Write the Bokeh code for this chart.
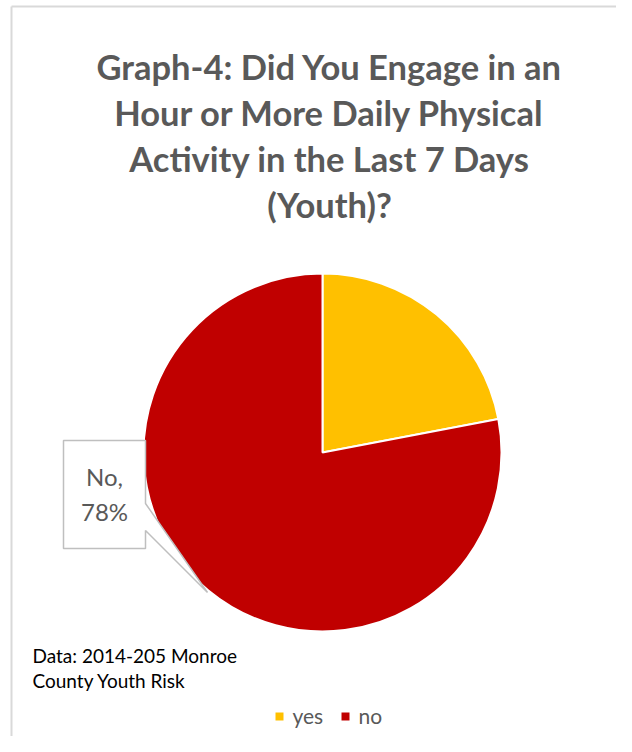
from math import pi
from bokeh.plotting import figure
from bokeh.models import ColumnDataSource, Range1d
from bokeh.core.properties import value
from bokeh.embed import file_html
from bokeh.resources import INLINE

# ---- data ----
categories = ["yes", "no"]
percents = [22, 78]
colors = ["#FFC000", "#C00000"]
title_lines = ["Graph-4: Did You Engage in an", "Hour or More Daily Physical",
               "Activity in the Last 7 Days", "(Youth)?"]
note_lines = ["Data: 2014-205 Monroe", "County Youth Risk"]
callout_label = ["No,", "78%"]

W, H = 616, 736
p = figure(width=W, height=H, output_backend="svg", toolbar_location=None,
           x_range=Range1d(0, W), y_range=Range1d(0, H),
           x_axis_type=None, y_axis_type=None, min_border=0,
           outline_line_color=None, background_fill_color="white")
p.grid.visible = False

# border (left and top)
p.line(x=[11, 11], y=[0, 730], line_color="#D9D9D9", line_width=2)
p.line(x=[11, W], y=[730, 730], line_color="#D9D9D9", line_width=2)

# pie
total = sum(percents)
starts, ends = [], []
acc = 0.0
for v in percents:
    starts.append(pi / 2 - acc / total * 2 * pi)
    acc += v
    ends.append(pi / 2 - acc / total * 2 * pi)
src = ColumnDataSource(dict(cat=categories, val=percents, color=colors,
                            start=starts, end=ends))
cx, cy, r = 322, 284, 179
p.wedge(x=cx, y=cy, radius=r, start_angle="start", end_angle="end",
        direction="clock", fill_color="color", line_color="white",
        line_width=2, source=src)

# title
for i, t in enumerate(title_lines):
    p.text(x=[329], y=[670 - 46 * i], text=[t], text_align="center",
           text_baseline="alphabetic", text_font=value("Lato"),
           text_font_style="bold", text_font_size="34.5px", text_color="#595959")

# callout for "no"
p.patch(x=[63, 145, 145, 207, 145, 145, 63],
        y=[296, 296, 233, 144, 206, 188, 188],
        fill_color="white", line_color="#BFBFBF", line_width=1.5)
p.text(x=[104, 104], y=[260, 225], text=callout_label, text_align="center",
       text_baseline="middle", text_font=value("Lato"),
       text_font_size="24px", text_color="#595959")

# data note
for i, t in enumerate(note_lines):
    p.text(x=[32], y=[81 - 25 * i], text=[t], text_align="left",
           text_baseline="alphabetic", text_font=value("Lato"),
           text_font_size="19px", text_color="#000000")

# legend (manual)
leg_sq_x = [279, 345]
leg_txt_x = [292, 358]
p.scatter(x=leg_sq_x, y=[20, 20], marker="square", size=8,
          fill_color=colors, line_color=None)
p.text(x=leg_txt_x, y=[21, 21], text=categories, text_align="left",
       text_baseline="alphabetic", text_font=value("Lato"),
       text_font_size="21px", text_color="#595959")

open("out.html", "w").write(file_html(p, INLINE))
